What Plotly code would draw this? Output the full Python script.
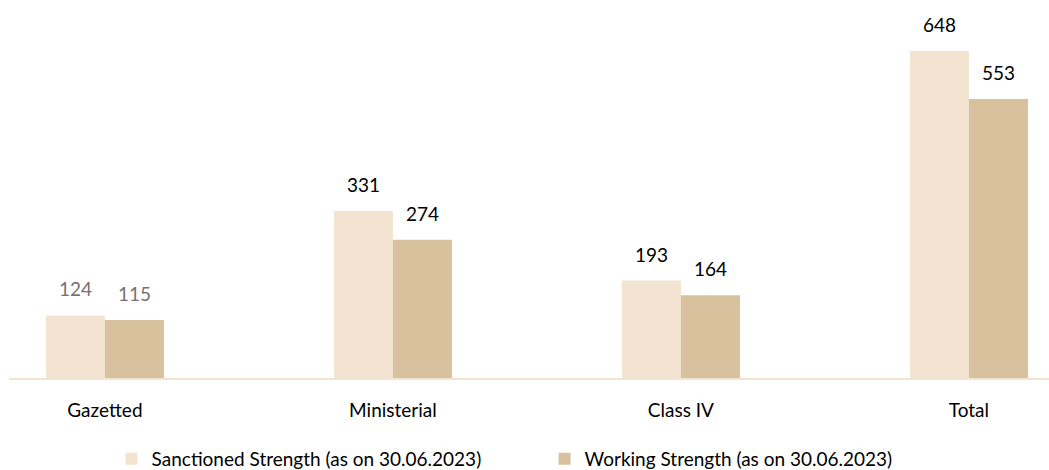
import plotly.graph_objects as go

categories = ["Gazetted", "Ministerial", "Class IV", "Total"]
sanctioned = [124, 331, 193, 648]
working = [115, 274, 164, 553]
series_names = ["Sanctioned Strength (as on 30.06.2023)", "Working Strength (as on 30.06.2023)"]
label_colors = ["#767171", "#000000", "#000000", "#000000"]

FONT = "Lato"
C_SANC = "#F2E4D0"
C_WORK = "#D8C29E"
FS = 19

fig = go.Figure()
fig.add_trace(go.Bar(x=categories, y=sanctioned, name=series_names[0],
                     marker=dict(color=C_SANC, line_width=0)))
fig.add_trace(go.Bar(x=categories, y=working, name=series_names[1],
                     marker=dict(color=C_WORK, line_width=0)))

# value labels above each bar
for vals, shift in ((sanctioned, -29.5), (working, 29.5)):
    for cat, v, col in zip(categories, vals, label_colors):
        fig.add_annotation(x=cat, y=v, text=str(v), showarrow=False,
                           xshift=shift, yshift=13, yanchor="bottom",
                           font=dict(family=FONT, size=FS, color=col))

fig.update_layout(
    width=1049, height=470,
    margin=dict(l=9, r=0, t=0, b=92, autoexpand=False),
    paper_bgcolor="white", plot_bgcolor="white",
    barmode="group", bargap=0.59, bargroupgap=0,
    font=dict(family=FONT, size=FS, color="#000000"),
    legend=dict(orientation="h", x=0.515, xanchor="center", y=-0.214, yanchor="middle",
                entrywidth=388, entrywidthmode="pixels",
                font=dict(family=FONT, size=FS, color="#000000")),
    showlegend=True,
)
fig.update_xaxes(range=[-0.333, 3.278], showline=True, linecolor="#F2E4D0", linewidth=2,
                 ticks="", showgrid=False, ticklabelstandoff=14,
                 tickfont=dict(family=FONT, size=FS, color="#000000"))
fig.update_yaxes(range=[0, 749], visible=False, showgrid=False)

fig.write_html("out.html")
